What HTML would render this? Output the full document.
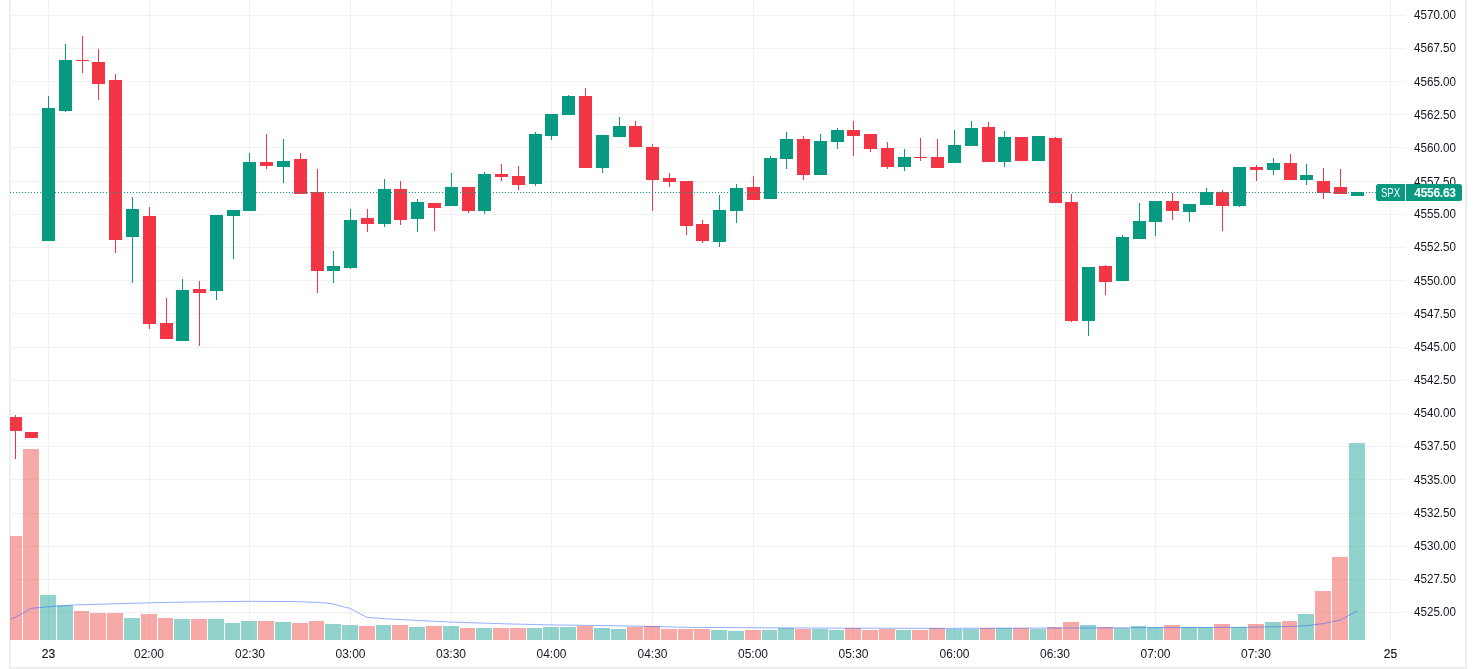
<!DOCTYPE html>
<html><head><meta charset="utf-8">
<style>
html,body{margin:0;padding:0;background:#ffffff;width:1476px;height:669px;overflow:hidden}
svg{display:block;will-change:transform}
.t{font-family:"Liberation Sans",sans-serif;font-size:12px;fill:#131722}
.w{fill:#ffffff}
.p{letter-spacing:-0.25px}
.b{font-weight:bold;letter-spacing:-0.3px}
.bd{stroke:#131722;stroke-width:0.2px}
</style></head>
<body>
<svg width="1476" height="669" viewBox="0 0 1476 669" shape-rendering="crispEdges">
<rect x="9" y="0" width="2" height="669" fill="#EDEEF2"/>
<rect x="11" y="15" width="1395" height="1" fill="rgba(42,46,57,0.065)"/>
<rect x="11" y="48" width="1395" height="1" fill="rgba(42,46,57,0.065)"/>
<rect x="11" y="81" width="1395" height="1" fill="rgba(42,46,57,0.065)"/>
<rect x="11" y="114" width="1395" height="1" fill="rgba(42,46,57,0.065)"/>
<rect x="11" y="147" width="1395" height="1" fill="rgba(42,46,57,0.065)"/>
<rect x="11" y="181" width="1395" height="1" fill="rgba(42,46,57,0.065)"/>
<rect x="11" y="214" width="1395" height="1" fill="rgba(42,46,57,0.065)"/>
<rect x="11" y="247" width="1395" height="1" fill="rgba(42,46,57,0.065)"/>
<rect x="11" y="280" width="1395" height="1" fill="rgba(42,46,57,0.065)"/>
<rect x="11" y="313" width="1395" height="1" fill="rgba(42,46,57,0.065)"/>
<rect x="11" y="347" width="1395" height="1" fill="rgba(42,46,57,0.065)"/>
<rect x="11" y="380" width="1395" height="1" fill="rgba(42,46,57,0.065)"/>
<rect x="11" y="413" width="1395" height="1" fill="rgba(42,46,57,0.065)"/>
<rect x="11" y="446" width="1395" height="1" fill="rgba(42,46,57,0.065)"/>
<rect x="11" y="479" width="1395" height="1" fill="rgba(42,46,57,0.065)"/>
<rect x="11" y="513" width="1395" height="1" fill="rgba(42,46,57,0.065)"/>
<rect x="11" y="546" width="1395" height="1" fill="rgba(42,46,57,0.065)"/>
<rect x="11" y="579" width="1395" height="1" fill="rgba(42,46,57,0.065)"/>
<rect x="11" y="612" width="1395" height="1" fill="rgba(42,46,57,0.065)"/>
<rect x="48" y="0" width="1" height="640" fill="rgba(42,46,57,0.065)"/>
<rect x="149" y="0" width="1" height="640" fill="rgba(42,46,57,0.065)"/>
<rect x="249" y="0" width="1" height="640" fill="rgba(42,46,57,0.065)"/>
<rect x="350" y="0" width="1" height="640" fill="rgba(42,46,57,0.065)"/>
<rect x="451" y="0" width="1" height="640" fill="rgba(42,46,57,0.065)"/>
<rect x="551" y="0" width="1" height="640" fill="rgba(42,46,57,0.065)"/>
<rect x="652" y="0" width="1" height="640" fill="rgba(42,46,57,0.065)"/>
<rect x="753" y="0" width="1" height="640" fill="rgba(42,46,57,0.065)"/>
<rect x="853" y="0" width="1" height="640" fill="rgba(42,46,57,0.065)"/>
<rect x="954" y="0" width="1" height="640" fill="rgba(42,46,57,0.065)"/>
<rect x="1055" y="0" width="1" height="640" fill="rgba(42,46,57,0.065)"/>
<rect x="1155" y="0" width="1" height="640" fill="rgba(42,46,57,0.065)"/>
<rect x="1256" y="0" width="1" height="640" fill="rgba(42,46,57,0.065)"/>
<rect x="1390" y="0" width="1" height="640" fill="rgba(42,46,57,0.065)"/>
<rect x="10" y="536" width="12" height="104" fill="rgba(239,83,80,0.5)"/>
<rect x="23" y="449" width="16" height="191" fill="rgba(239,83,80,0.5)"/>
<rect x="40" y="595" width="16" height="45" fill="rgba(38,166,154,0.5)"/>
<rect x="57" y="605" width="16" height="35" fill="rgba(38,166,154,0.5)"/>
<rect x="74" y="611" width="15" height="29" fill="rgba(239,83,80,0.5)"/>
<rect x="90" y="613" width="16" height="27" fill="rgba(239,83,80,0.5)"/>
<rect x="107" y="613" width="16" height="27" fill="rgba(239,83,80,0.5)"/>
<rect x="124" y="618" width="16" height="22" fill="rgba(38,166,154,0.5)"/>
<rect x="141" y="614" width="16" height="26" fill="rgba(239,83,80,0.5)"/>
<rect x="158" y="618" width="15" height="22" fill="rgba(239,83,80,0.5)"/>
<rect x="174" y="619" width="16" height="21" fill="rgba(38,166,154,0.5)"/>
<rect x="191" y="619" width="16" height="21" fill="rgba(239,83,80,0.5)"/>
<rect x="208" y="619" width="16" height="21" fill="rgba(38,166,154,0.5)"/>
<rect x="225" y="623" width="15" height="17" fill="rgba(38,166,154,0.5)"/>
<rect x="241" y="621" width="16" height="19" fill="rgba(38,166,154,0.5)"/>
<rect x="258" y="621" width="16" height="19" fill="rgba(239,83,80,0.5)"/>
<rect x="275" y="622" width="16" height="18" fill="rgba(38,166,154,0.5)"/>
<rect x="292" y="623" width="16" height="17" fill="rgba(239,83,80,0.5)"/>
<rect x="309" y="621" width="15" height="19" fill="rgba(239,83,80,0.5)"/>
<rect x="325" y="624" width="16" height="16" fill="rgba(38,166,154,0.5)"/>
<rect x="342" y="625" width="16" height="15" fill="rgba(38,166,154,0.5)"/>
<rect x="359" y="626" width="16" height="14" fill="rgba(239,83,80,0.5)"/>
<rect x="376" y="625" width="15" height="15" fill="rgba(38,166,154,0.5)"/>
<rect x="392" y="625" width="16" height="15" fill="rgba(239,83,80,0.5)"/>
<rect x="409" y="627" width="16" height="13" fill="rgba(38,166,154,0.5)"/>
<rect x="426" y="626" width="16" height="14" fill="rgba(239,83,80,0.5)"/>
<rect x="443" y="626" width="16" height="14" fill="rgba(38,166,154,0.5)"/>
<rect x="460" y="628" width="15" height="12" fill="rgba(239,83,80,0.5)"/>
<rect x="476" y="628" width="16" height="12" fill="rgba(38,166,154,0.5)"/>
<rect x="493" y="628" width="16" height="12" fill="rgba(239,83,80,0.5)"/>
<rect x="510" y="628" width="16" height="12" fill="rgba(239,83,80,0.5)"/>
<rect x="527" y="628" width="15" height="12" fill="rgba(38,166,154,0.5)"/>
<rect x="543" y="627" width="16" height="13" fill="rgba(38,166,154,0.5)"/>
<rect x="560" y="627" width="16" height="13" fill="rgba(38,166,154,0.5)"/>
<rect x="577" y="626" width="16" height="14" fill="rgba(239,83,80,0.5)"/>
<rect x="594" y="628" width="16" height="12" fill="rgba(38,166,154,0.5)"/>
<rect x="611" y="629" width="15" height="11" fill="rgba(38,166,154,0.5)"/>
<rect x="627" y="627" width="16" height="13" fill="rgba(239,83,80,0.5)"/>
<rect x="644" y="626" width="16" height="14" fill="rgba(239,83,80,0.5)"/>
<rect x="661" y="629" width="16" height="11" fill="rgba(239,83,80,0.5)"/>
<rect x="678" y="629" width="15" height="11" fill="rgba(239,83,80,0.5)"/>
<rect x="694" y="629" width="16" height="11" fill="rgba(239,83,80,0.5)"/>
<rect x="711" y="630" width="16" height="10" fill="rgba(38,166,154,0.5)"/>
<rect x="728" y="631" width="16" height="9" fill="rgba(38,166,154,0.5)"/>
<rect x="745" y="630" width="16" height="10" fill="rgba(239,83,80,0.5)"/>
<rect x="762" y="630" width="15" height="10" fill="rgba(38,166,154,0.5)"/>
<rect x="778" y="628" width="16" height="12" fill="rgba(38,166,154,0.5)"/>
<rect x="795" y="629" width="16" height="11" fill="rgba(239,83,80,0.5)"/>
<rect x="812" y="629" width="16" height="11" fill="rgba(38,166,154,0.5)"/>
<rect x="829" y="630" width="15" height="10" fill="rgba(38,166,154,0.5)"/>
<rect x="845" y="628" width="16" height="12" fill="rgba(239,83,80,0.5)"/>
<rect x="862" y="630" width="16" height="10" fill="rgba(239,83,80,0.5)"/>
<rect x="879" y="629" width="16" height="11" fill="rgba(239,83,80,0.5)"/>
<rect x="896" y="630" width="15" height="10" fill="rgba(38,166,154,0.5)"/>
<rect x="912" y="630" width="16" height="10" fill="rgba(239,83,80,0.5)"/>
<rect x="929" y="628" width="16" height="12" fill="rgba(239,83,80,0.5)"/>
<rect x="946" y="629" width="16" height="11" fill="rgba(38,166,154,0.5)"/>
<rect x="963" y="629" width="16" height="11" fill="rgba(38,166,154,0.5)"/>
<rect x="980" y="628" width="15" height="12" fill="rgba(239,83,80,0.5)"/>
<rect x="996" y="628" width="16" height="12" fill="rgba(38,166,154,0.5)"/>
<rect x="1013" y="628" width="16" height="12" fill="rgba(239,83,80,0.5)"/>
<rect x="1030" y="629" width="16" height="11" fill="rgba(38,166,154,0.5)"/>
<rect x="1047" y="627" width="15" height="13" fill="rgba(239,83,80,0.5)"/>
<rect x="1063" y="622" width="16" height="18" fill="rgba(239,83,80,0.5)"/>
<rect x="1080" y="625" width="16" height="15" fill="rgba(38,166,154,0.5)"/>
<rect x="1097" y="627" width="16" height="13" fill="rgba(239,83,80,0.5)"/>
<rect x="1114" y="628" width="16" height="12" fill="rgba(38,166,154,0.5)"/>
<rect x="1131" y="626" width="15" height="14" fill="rgba(38,166,154,0.5)"/>
<rect x="1147" y="627" width="16" height="13" fill="rgba(38,166,154,0.5)"/>
<rect x="1164" y="625" width="16" height="15" fill="rgba(239,83,80,0.5)"/>
<rect x="1181" y="627" width="16" height="13" fill="rgba(38,166,154,0.5)"/>
<rect x="1198" y="627" width="15" height="13" fill="rgba(38,166,154,0.5)"/>
<rect x="1214" y="624" width="16" height="16" fill="rgba(239,83,80,0.5)"/>
<rect x="1231" y="627" width="16" height="13" fill="rgba(38,166,154,0.5)"/>
<rect x="1248" y="624" width="16" height="16" fill="rgba(239,83,80,0.5)"/>
<rect x="1265" y="622" width="16" height="18" fill="rgba(38,166,154,0.5)"/>
<rect x="1282" y="621" width="15" height="19" fill="rgba(239,83,80,0.5)"/>
<rect x="1298" y="614" width="16" height="26" fill="rgba(38,166,154,0.5)"/>
<rect x="1315" y="591" width="16" height="49" fill="rgba(239,83,80,0.5)"/>
<rect x="1332" y="557" width="16" height="83" fill="rgba(239,83,80,0.5)"/>
<rect x="1349" y="443" width="16" height="197" fill="rgba(38,166,154,0.5)"/>
<polyline points="11,618.8 15,617.6 31,608.3 48,606.9 73,605.0 149,602.8 185,602.1 250,601.3 298,601.6 320,602.6 331,603.5 350,608.4 367,617.4 390,619.0 440,621.6 451,622.1 511,624.0 552,624.9 603,625.6 644,626.3 690,627.4 800,628.0 940,628.4 1060,628.0 1170,627.6 1247,627.3 1290,626.5 1308,625.6 1324,623.5 1340,620.2 1357,610.9" fill="none" stroke="#2962FF" stroke-opacity="0.5" stroke-width="1" shape-rendering="auto"/>
<rect x="15" y="415" width="1" height="44" fill="#F23645"/>
<rect x="10" y="417" width="12" height="14" fill="#F23645"/>
<rect x="25" y="432" width="13" height="6" fill="#F23645"/>
<rect x="48" y="96" width="1" height="145" fill="#089981"/>
<rect x="42" y="108" width="13" height="133" fill="#089981"/>
<rect x="65" y="44" width="1" height="68" fill="#089981"/>
<rect x="59" y="60" width="13" height="51" fill="#089981"/>
<rect x="82" y="36" width="1" height="37" fill="#F23645"/>
<rect x="76" y="60" width="13" height="1" fill="#F23645"/>
<rect x="98" y="49" width="1" height="51" fill="#F23645"/>
<rect x="92" y="62" width="13" height="22" fill="#F23645"/>
<rect x="115" y="74" width="1" height="179" fill="#F23645"/>
<rect x="109" y="80" width="13" height="160" fill="#F23645"/>
<rect x="132" y="197" width="1" height="86" fill="#089981"/>
<rect x="126" y="209" width="13" height="28" fill="#089981"/>
<rect x="149" y="207" width="1" height="122" fill="#F23645"/>
<rect x="143" y="216" width="13" height="108" fill="#F23645"/>
<rect x="166" y="298" width="1" height="41" fill="#F23645"/>
<rect x="160" y="323" width="13" height="16" fill="#F23645"/>
<rect x="182" y="279" width="1" height="62" fill="#089981"/>
<rect x="176" y="290" width="13" height="51" fill="#089981"/>
<rect x="199" y="281" width="1" height="65" fill="#F23645"/>
<rect x="193" y="289" width="13" height="4" fill="#F23645"/>
<rect x="216" y="215" width="1" height="85" fill="#089981"/>
<rect x="210" y="215" width="13" height="76" fill="#089981"/>
<rect x="233" y="210" width="1" height="49" fill="#089981"/>
<rect x="227" y="210" width="13" height="6" fill="#089981"/>
<rect x="249" y="153" width="1" height="58" fill="#089981"/>
<rect x="243" y="162" width="13" height="49" fill="#089981"/>
<rect x="266" y="134" width="1" height="35" fill="#F23645"/>
<rect x="260" y="162" width="13" height="4" fill="#F23645"/>
<rect x="283" y="139" width="1" height="44" fill="#089981"/>
<rect x="277" y="161" width="13" height="6" fill="#089981"/>
<rect x="300" y="153" width="1" height="41" fill="#F23645"/>
<rect x="294" y="159" width="13" height="35" fill="#F23645"/>
<rect x="317" y="169" width="1" height="124" fill="#F23645"/>
<rect x="311" y="192" width="13" height="79" fill="#F23645"/>
<rect x="333" y="251" width="1" height="32" fill="#089981"/>
<rect x="327" y="266" width="13" height="5" fill="#089981"/>
<rect x="350" y="209" width="1" height="60" fill="#089981"/>
<rect x="344" y="220" width="13" height="48" fill="#089981"/>
<rect x="367" y="209" width="1" height="23" fill="#F23645"/>
<rect x="361" y="218" width="13" height="6" fill="#F23645"/>
<rect x="384" y="179" width="1" height="48" fill="#089981"/>
<rect x="378" y="189" width="13" height="35" fill="#089981"/>
<rect x="400" y="181" width="1" height="44" fill="#F23645"/>
<rect x="394" y="189" width="13" height="31" fill="#F23645"/>
<rect x="417" y="199" width="1" height="33" fill="#089981"/>
<rect x="411" y="202" width="13" height="17" fill="#089981"/>
<rect x="434" y="203" width="1" height="28" fill="#F23645"/>
<rect x="428" y="203" width="13" height="5" fill="#F23645"/>
<rect x="451" y="173" width="1" height="33" fill="#089981"/>
<rect x="445" y="187" width="13" height="19" fill="#089981"/>
<rect x="468" y="187" width="1" height="26" fill="#F23645"/>
<rect x="462" y="187" width="13" height="24" fill="#F23645"/>
<rect x="484" y="172" width="1" height="42" fill="#089981"/>
<rect x="478" y="174" width="13" height="37" fill="#089981"/>
<rect x="501" y="164" width="1" height="17" fill="#F23645"/>
<rect x="495" y="174" width="13" height="3" fill="#F23645"/>
<rect x="518" y="166" width="1" height="24" fill="#F23645"/>
<rect x="512" y="176" width="13" height="9" fill="#F23645"/>
<rect x="535" y="132" width="1" height="54" fill="#089981"/>
<rect x="529" y="134" width="13" height="50" fill="#089981"/>
<rect x="551" y="114" width="1" height="26" fill="#089981"/>
<rect x="545" y="114" width="13" height="22" fill="#089981"/>
<rect x="568" y="95" width="1" height="20" fill="#089981"/>
<rect x="562" y="96" width="13" height="19" fill="#089981"/>
<rect x="585" y="88" width="1" height="80" fill="#F23645"/>
<rect x="579" y="96" width="13" height="72" fill="#F23645"/>
<rect x="602" y="135" width="1" height="38" fill="#089981"/>
<rect x="596" y="135" width="13" height="33" fill="#089981"/>
<rect x="619" y="117" width="1" height="20" fill="#089981"/>
<rect x="613" y="126" width="13" height="11" fill="#089981"/>
<rect x="635" y="121" width="1" height="26" fill="#F23645"/>
<rect x="629" y="126" width="13" height="21" fill="#F23645"/>
<rect x="652" y="144" width="1" height="67" fill="#F23645"/>
<rect x="646" y="147" width="13" height="33" fill="#F23645"/>
<rect x="669" y="173" width="1" height="14" fill="#F23645"/>
<rect x="663" y="178" width="13" height="4" fill="#F23645"/>
<rect x="686" y="181" width="1" height="54" fill="#F23645"/>
<rect x="680" y="181" width="13" height="45" fill="#F23645"/>
<rect x="702" y="220" width="1" height="23" fill="#F23645"/>
<rect x="696" y="224" width="13" height="17" fill="#F23645"/>
<rect x="719" y="195" width="1" height="52" fill="#089981"/>
<rect x="713" y="210" width="13" height="32" fill="#089981"/>
<rect x="736" y="184" width="1" height="39" fill="#089981"/>
<rect x="730" y="188" width="13" height="23" fill="#089981"/>
<rect x="753" y="176" width="1" height="24" fill="#F23645"/>
<rect x="747" y="187" width="13" height="13" fill="#F23645"/>
<rect x="770" y="156" width="1" height="43" fill="#089981"/>
<rect x="764" y="158" width="13" height="41" fill="#089981"/>
<rect x="786" y="132" width="1" height="37" fill="#089981"/>
<rect x="780" y="139" width="13" height="20" fill="#089981"/>
<rect x="803" y="136" width="1" height="44" fill="#F23645"/>
<rect x="797" y="139" width="13" height="36" fill="#F23645"/>
<rect x="820" y="134" width="1" height="41" fill="#089981"/>
<rect x="814" y="141" width="13" height="34" fill="#089981"/>
<rect x="837" y="128" width="1" height="21" fill="#089981"/>
<rect x="831" y="130" width="13" height="12" fill="#089981"/>
<rect x="853" y="121" width="1" height="35" fill="#F23645"/>
<rect x="847" y="130" width="13" height="6" fill="#F23645"/>
<rect x="870" y="134" width="1" height="18" fill="#F23645"/>
<rect x="864" y="134" width="13" height="15" fill="#F23645"/>
<rect x="887" y="142" width="1" height="27" fill="#F23645"/>
<rect x="881" y="148" width="13" height="19" fill="#F23645"/>
<rect x="904" y="149" width="1" height="22" fill="#089981"/>
<rect x="898" y="157" width="13" height="10" fill="#089981"/>
<rect x="920" y="138" width="1" height="23" fill="#F23645"/>
<rect x="914" y="157" width="13" height="1" fill="#F23645"/>
<rect x="937" y="139" width="1" height="29" fill="#F23645"/>
<rect x="931" y="157" width="13" height="11" fill="#F23645"/>
<rect x="954" y="130" width="1" height="33" fill="#089981"/>
<rect x="948" y="145" width="13" height="18" fill="#089981"/>
<rect x="971" y="121" width="1" height="25" fill="#089981"/>
<rect x="965" y="128" width="13" height="18" fill="#089981"/>
<rect x="988" y="122" width="1" height="40" fill="#F23645"/>
<rect x="982" y="127" width="13" height="35" fill="#F23645"/>
<rect x="1004" y="131" width="1" height="36" fill="#089981"/>
<rect x="998" y="137" width="13" height="25" fill="#089981"/>
<rect x="1021" y="137" width="1" height="24" fill="#F23645"/>
<rect x="1015" y="137" width="13" height="24" fill="#F23645"/>
<rect x="1038" y="136" width="1" height="25" fill="#089981"/>
<rect x="1032" y="136" width="13" height="25" fill="#089981"/>
<rect x="1055" y="137" width="1" height="66" fill="#F23645"/>
<rect x="1049" y="138" width="13" height="65" fill="#F23645"/>
<rect x="1071" y="194" width="1" height="128" fill="#F23645"/>
<rect x="1065" y="202" width="13" height="119" fill="#F23645"/>
<rect x="1088" y="267" width="1" height="69" fill="#089981"/>
<rect x="1082" y="267" width="13" height="54" fill="#089981"/>
<rect x="1105" y="265" width="1" height="30" fill="#F23645"/>
<rect x="1099" y="266" width="13" height="16" fill="#F23645"/>
<rect x="1122" y="235" width="1" height="46" fill="#089981"/>
<rect x="1116" y="237" width="13" height="44" fill="#089981"/>
<rect x="1139" y="203" width="1" height="36" fill="#089981"/>
<rect x="1133" y="221" width="13" height="18" fill="#089981"/>
<rect x="1155" y="201" width="1" height="35" fill="#089981"/>
<rect x="1149" y="201" width="13" height="21" fill="#089981"/>
<rect x="1172" y="193" width="1" height="27" fill="#F23645"/>
<rect x="1166" y="201" width="13" height="10" fill="#F23645"/>
<rect x="1189" y="204" width="1" height="18" fill="#089981"/>
<rect x="1183" y="204" width="13" height="8" fill="#089981"/>
<rect x="1206" y="188" width="1" height="17" fill="#089981"/>
<rect x="1200" y="192" width="13" height="13" fill="#089981"/>
<rect x="1222" y="190" width="1" height="41" fill="#F23645"/>
<rect x="1216" y="192" width="13" height="14" fill="#F23645"/>
<rect x="1239" y="167" width="1" height="40" fill="#089981"/>
<rect x="1233" y="167" width="13" height="39" fill="#089981"/>
<rect x="1256" y="165" width="1" height="16" fill="#F23645"/>
<rect x="1250" y="167" width="13" height="3" fill="#F23645"/>
<rect x="1273" y="158" width="1" height="17" fill="#089981"/>
<rect x="1267" y="163" width="13" height="7" fill="#089981"/>
<rect x="1290" y="154" width="1" height="26" fill="#F23645"/>
<rect x="1284" y="163" width="13" height="17" fill="#F23645"/>
<rect x="1306" y="164" width="1" height="21" fill="#089981"/>
<rect x="1300" y="175" width="13" height="5" fill="#089981"/>
<rect x="1323" y="168" width="1" height="31" fill="#F23645"/>
<rect x="1317" y="181" width="13" height="12" fill="#F23645"/>
<rect x="1340" y="169" width="1" height="25" fill="#F23645"/>
<rect x="1334" y="187" width="13" height="7" fill="#F23645"/>
<rect x="1357" y="192" width="1" height="4" fill="#089981"/>
<rect x="1351" y="192" width="13" height="4" fill="#089981"/>
<line x1="10" y1="192.5" x2="1376" y2="192.5" stroke="#089981" stroke-width="1" stroke-dasharray="1 2"/>
<rect x="1465" y="0" width="2" height="669" fill="#EDEEF2"/>
<rect x="9" y="667" width="1458" height="2" fill="#EDEEF2"/>
<text x="1414" y="18.5" class="t" textLength="42" lengthAdjust="spacingAndGlyphs">4570.00</text>
<text x="1414" y="51.5" class="t" textLength="42" lengthAdjust="spacingAndGlyphs">4567.50</text>
<text x="1414" y="85.5" class="t" textLength="42" lengthAdjust="spacingAndGlyphs">4565.00</text>
<text x="1414" y="118.5" class="t" textLength="42" lengthAdjust="spacingAndGlyphs">4562.50</text>
<text x="1414" y="151.5" class="t" textLength="42" lengthAdjust="spacingAndGlyphs">4560.00</text>
<text x="1414" y="185.5" class="t" textLength="42" lengthAdjust="spacingAndGlyphs">4557.50</text>
<text x="1414" y="217.5" class="t" textLength="42" lengthAdjust="spacingAndGlyphs">4555.00</text>
<text x="1414" y="250.5" class="t" textLength="42" lengthAdjust="spacingAndGlyphs">4552.50</text>
<text x="1414" y="284.5" class="t" textLength="42" lengthAdjust="spacingAndGlyphs">4550.00</text>
<text x="1414" y="317.5" class="t" textLength="42" lengthAdjust="spacingAndGlyphs">4547.50</text>
<text x="1414" y="350.5" class="t" textLength="42" lengthAdjust="spacingAndGlyphs">4545.00</text>
<text x="1414" y="383.5" class="t" textLength="42" lengthAdjust="spacingAndGlyphs">4542.50</text>
<text x="1414" y="416.5" class="t" textLength="42" lengthAdjust="spacingAndGlyphs">4540.00</text>
<text x="1414" y="449.5" class="t" textLength="42" lengthAdjust="spacingAndGlyphs">4537.50</text>
<text x="1414" y="483.5" class="t" textLength="42" lengthAdjust="spacingAndGlyphs">4535.00</text>
<text x="1414" y="516.5" class="t" textLength="42" lengthAdjust="spacingAndGlyphs">4532.50</text>
<text x="1414" y="549.5" class="t" textLength="42" lengthAdjust="spacingAndGlyphs">4530.00</text>
<text x="1414" y="582.5" class="t" textLength="42" lengthAdjust="spacingAndGlyphs">4527.50</text>
<text x="1414" y="615.5" class="t" textLength="42" lengthAdjust="spacingAndGlyphs">4525.00</text>
<path d="M1378.5,184 H1405 V201 H1378.5 Q1376,201 1376,198.5 V186.5 Q1376,184 1378.5,184 Z" fill="#089981" shape-rendering="geometricPrecision"/>
<path d="M1406,184 H1459.5 Q1462,184 1462,186.5 V198.5 Q1462,201 1459.5,201 H1406 Z" fill="#089981" shape-rendering="geometricPrecision"/>
<text x="1381" y="197" class="t w" textLength="19" lengthAdjust="spacingAndGlyphs">SPX</text>
<text x="1435" y="197" class="t w b" text-anchor="middle">4556.63</text>
<text x="48.5" y="658" class="t bd" text-anchor="middle">23</text>
<text x="149" y="658" class="t" text-anchor="middle">02:00</text>
<text x="250" y="658" class="t" text-anchor="middle">02:30</text>
<text x="350.5" y="658" class="t" text-anchor="middle">03:00</text>
<text x="451" y="658" class="t" text-anchor="middle">03:30</text>
<text x="551.5" y="658" class="t" text-anchor="middle">04:00</text>
<text x="652.5" y="658" class="t" text-anchor="middle">04:30</text>
<text x="753" y="658" class="t" text-anchor="middle">05:00</text>
<text x="853.5" y="658" class="t" text-anchor="middle">05:30</text>
<text x="954.5" y="658" class="t" text-anchor="middle">06:00</text>
<text x="1055" y="658" class="t" text-anchor="middle">06:30</text>
<text x="1155.5" y="658" class="t" text-anchor="middle">07:00</text>
<text x="1256" y="658" class="t" text-anchor="middle">07:30</text>
<text x="1390.5" y="658" class="t bd" text-anchor="middle">25</text>
</svg>
</body></html>
